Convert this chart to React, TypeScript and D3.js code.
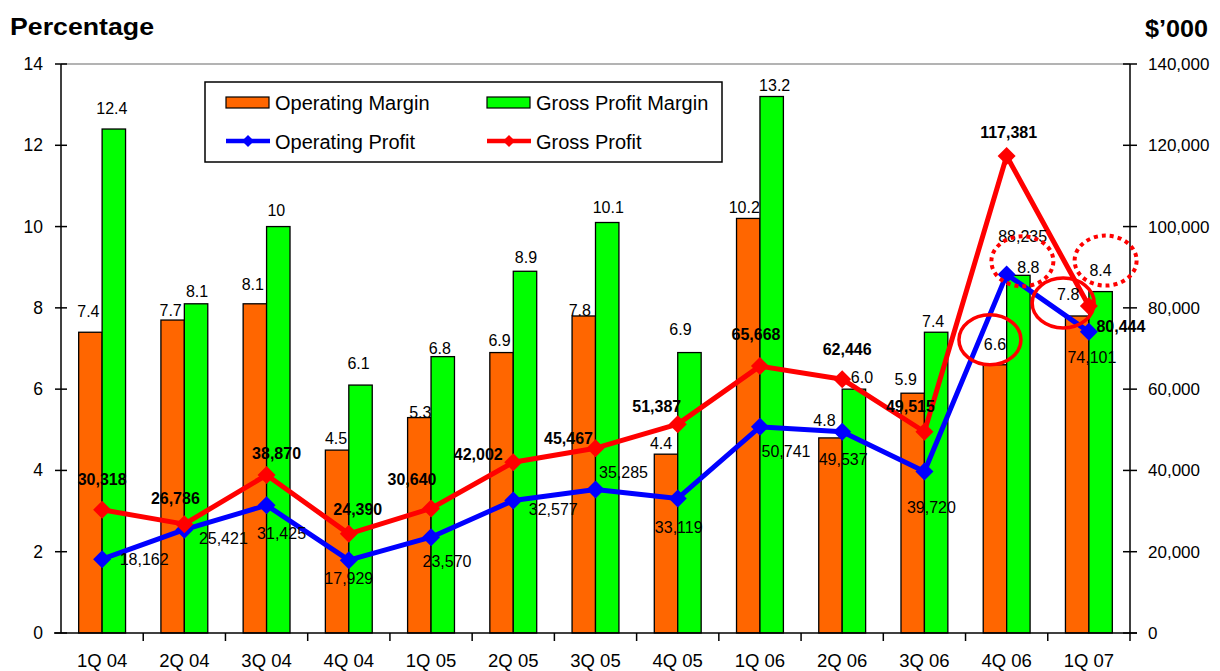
import React from "react";
import * as d3 from "d3";

// ---------- data ----------
const categories = ["1Q 04", "2Q 04", "3Q 04", "4Q 04", "1Q 05", "2Q 05", "3Q 05", "4Q 05", "1Q 06", "2Q 06", "3Q 06", "4Q 06", "1Q 07"];
const operatingMargin = [7.4, 7.7, 8.1, 4.5, 5.3, 6.9, 7.8, 4.4, 10.2, 4.8, 5.9, 6.6, 7.8];
const grossProfitMargin = [12.4, 8.1, 10, 6.1, 6.8, 8.9, 10.1, 6.9, 13.2, 6.0, 7.4, 8.8, 8.4];
const operatingProfit = [18162, 25421, 31425, 17929, 23570, 32577, 35285, 33119, 50741, 49537, 39720, 88235, 74101];
const grossProfit = [30318, 26786, 38870, 24390, 30640, 42002, 45467, 51387, 65668, 62446, 49515, 117381, 80444];
const opMarginLabels = ["7.4", "7.7", "8.1", "4.5", "5.3", "6.9", "7.8", "4.4", "10.2", "4.8", "5.9", "6.6", "7.8"];
const gpMarginLabels = ["12.4", "8.1", "10", "6.1", "6.8", "8.9", "10.1", "6.9", "13.2", "6.0", "7.4", "8.8", "8.4"];
const leftTicks = [0, 2, 4, 6, 8, 10, 12, 14];
const rightTicks = [0, 20000, 40000, 60000, 80000, 100000, 120000, 140000];

// ---------- label nudges (layout, px) ----------
const opMarginNudge = [[-2, -15], [-2, -4], [-2, -14], [-1, -6], [1, 0], [-2, -7], [-4, 0], [-5, -5], [-4, -5], [-6, -12], [-7, -8], [0, -15], [-9, -16]];
const gpMarginNudge = [[-2, -15], [1, -7], [-2, -11], [-2, -16], [-3, -3], [1, -8], [1, -10], [-9, -18], [3, -6], [8, -6], [-3, -5], [10, -2], [0, -16]];
const opProfitNudge = [[42, 6], [39, 14], [15, 34], [0, 24], [16, 30], [40, 14], [28, -12], [1, 35], [26, 30], [1, 33], [7, 41], [16, -32], [3, 31]];
const grossProfitNudge = [[0, -25], [-9, -20], [10, -16], [9, -19], [-19, -23], [-35, -2], [-27, -4], [-21, -12], [-4, -26], [5, -24], [-14, -20], [2, -18], [32, 26]];

// annotations: ellipses around labels (index, series, dx, dy from label baseline, dotted)
const annotations = [
  { i: 11, series: "op", dx: -5, dy: -10, dotted: false },
  { i: 12, series: "op", dx: -5, dy: 3, dotted: false },
  { i: 11, series: "gp", dx: -6, dy: -12, dotted: true },
  { i: 12, series: "gp", dx: 5, dy: -15, dotted: true },
];

const W = 1220;
const H = 671;
const FONT = "'Liberation Sans', Arial, Helvetica, sans-serif";
const ORANGE = "#FF6600";
const GREEN = "#00FF00";
const BLUE = "#0000FF";
const RED = "#FF0000";

const fmt = d3.format(",");

function diamond(cx: number, cy: number, r: number) {
  return `M${cx},${cy - r}L${cx + r},${cy}L${cx},${cy + r}L${cx - r},${cy}Z`;
}

export default function App() {
  const left = 61;
  const right = 1130;
  const top = 64;
  const bottom = 633;

  const x = d3.scaleBand<string>().domain(categories).range([left, right]).paddingInner(0).paddingOuter(0);
  const bw = x.bandwidth();
  const barW = bw * 0.285;
  const cx = (c: string) => (x(c) as number) + bw / 2;
  const yL = d3.scaleLinear().domain([0, 14]).range([bottom, top]);
  const yR = d3.scaleLinear().domain([0, 140000]).range([bottom, top]);

  const line = d3.line<number>().x((_, i) => cx(categories[i])).y((d) => yR(d));

  const opLabelPos = categories.map((c, i) => ({
    x: cx(c) - barW / 2 + opMarginNudge[i][0],
    y: yL(operatingMargin[i]) + opMarginNudge[i][1],
  }));
  const gpLabelPos = categories.map((c, i) => ({
    x: cx(c) + barW / 2 + gpMarginNudge[i][0],
    y: yL(grossProfitMargin[i]) + gpMarginNudge[i][1],
  }));

  const boundaries = d3.range(0, categories.length + 1).map((i) => left + i * bw);

  return (
    <svg width={W} height={H} style={{ position: "absolute", left: 0, top: 0, background: "#fff" }} fontFamily={FONT}>
      <rect x={0} y={0} width={W} height={H} fill="#fff" />
      {/* titles */}
      <text x={10} y={35} fontSize={24} fontWeight="bold" textLength={144} lengthAdjust="spacingAndGlyphs">Percentage</text>
      <text x={1145} y={37} fontSize={24} fontWeight="bold" textLength={63} lengthAdjust="spacingAndGlyphs">$’000</text>

      {/* top border */}
      <line x1={left} x2={right} y1={top} y2={top} stroke="#9a9a9a" strokeWidth={1.5} />

      {/* bars */}
      {categories.map((c, i) => (
        <g key={"b" + i}>
          <rect x={cx(c) - barW} y={yL(operatingMargin[i])} width={barW} height={bottom - yL(operatingMargin[i])} fill={ORANGE} stroke="#000" strokeWidth={1.3} />
          <rect x={cx(c)} y={yL(grossProfitMargin[i])} width={barW} height={bottom - yL(grossProfitMargin[i])} fill={GREEN} stroke="#000" strokeWidth={1.3} />
        </g>
      ))}

      {/* axes */}
      <line x1={left} x2={left} y1={top} y2={bottom} stroke="#000" strokeWidth={1.5} />
      <line x1={right} x2={right} y1={top} y2={bottom} stroke="#000" strokeWidth={1.5} />
      <line x1={left - 7} x2={right + 7} y1={bottom} y2={bottom} stroke="#000" strokeWidth={1.5} />
      {leftTicks.map((t) => (
        <g key={"lt" + t}>
          <line x1={left - 6} x2={left + 6} y1={yL(t)} y2={yL(t)} stroke="#000" strokeWidth={1.5} />
          <text x={43} y={yL(t) + 6} fontSize={17.5} textAnchor="end">{t}</text>
        </g>
      ))}
      {rightTicks.map((t) => (
        <g key={"rt" + t}>
          <line x1={right - 7} x2={right + 7} y1={yR(t)} y2={yR(t)} stroke="#000" strokeWidth={1.5} />
          <text x={1148} y={yR(t) + 6} fontSize={17}>{fmt(t)}</text>
        </g>
      ))}
      {boundaries.slice(1).map((b, i) => (
        <line key={"xt" + i} x1={b} x2={b} y1={bottom} y2={bottom + 8} stroke="#000" strokeWidth={1.5} />
      ))}
      {categories.map((c) => (
        <text key={"xl" + c} x={cx(c)} y={667} fontSize={18.5} textAnchor="middle">{c}</text>
      ))}

      {/* lines */}
      <path d={line(operatingProfit) || ""} fill="none" stroke={BLUE} strokeWidth={5} strokeLinejoin="round" />
      {operatingProfit.map((v, i) => (
        <path key={"bm" + i} d={diamond(cx(categories[i]), yR(v), 9)} fill={BLUE} />
      ))}
      <path d={line(grossProfit) || ""} fill="none" stroke={RED} strokeWidth={5} strokeLinejoin="round" />
      {grossProfit.map((v, i) => (
        <path key={"rm" + i} d={diamond(cx(categories[i]), yR(v), 9)} fill={RED} />
      ))}

      {/* bar labels */}
      {categories.map((c, i) => (
        <g key={"bl" + i} fontSize={16}>
          <text x={opLabelPos[i].x} y={opLabelPos[i].y} textAnchor="middle">{opMarginLabels[i]}</text>
          <text x={gpLabelPos[i].x} y={gpLabelPos[i].y} textAnchor="middle">{gpMarginLabels[i]}</text>
        </g>
      ))}

      {/* line labels */}
      {operatingProfit.map((v, i) => (
        <text key={"ol" + i} x={cx(categories[i]) + opProfitNudge[i][0]} y={yR(v) + opProfitNudge[i][1]} fontSize={16} textAnchor="middle">{fmt(v)}</text>
      ))}
      {grossProfit.map((v, i) => (
        <text key={"gl" + i} x={cx(categories[i]) + grossProfitNudge[i][0]} y={yR(v) + grossProfitNudge[i][1]} fontSize={16} fontWeight="bold" textAnchor="middle">{fmt(v)}</text>
      ))}

      {/* annotations */}
      {annotations.map((a, k) => {
        const p = a.series === "op" ? opLabelPos[a.i] : gpLabelPos[a.i];
        return (
          <ellipse key={"an" + k} cx={p.x + a.dx} cy={p.y + a.dy} rx={31} ry={25} fill="none" stroke={RED} strokeWidth={a.dotted ? 4 : 3.5} strokeDasharray={a.dotted ? "4 4" : undefined} />
        );
      })}

      {/* legend */}
      <g>
        <rect x={205} y={82} width={517} height={80} fill="#fff" stroke="#000" strokeWidth={1.5} />
        <rect x={226} y={97} width={43} height={11} fill={ORANGE} stroke="#000" strokeWidth={1.2} />
        <text x={275} y={110} fontSize={20}>Operating Margin</text>
        <rect x={487} y={97} width={43} height={11} fill={GREEN} stroke="#000" strokeWidth={1.2} />
        <text x={536} y={110} fontSize={20}>Gross Profit Margin</text>
        <line x1={226} x2={270} y1={141} y2={141} stroke={BLUE} strokeWidth={4.5} />
        <path d={diamond(248, 141, 6)} fill={BLUE} />
        <text x={275} y={149} fontSize={20}>Operating Profit</text>
        <line x1={487} x2={531} y1={141} y2={141} stroke={RED} strokeWidth={4.5} />
        <path d={diamond(509, 141, 6)} fill={RED} />
        <text x={536} y={149} fontSize={20}>Gross Profit</text>
      </g>
    </svg>
  );
}
